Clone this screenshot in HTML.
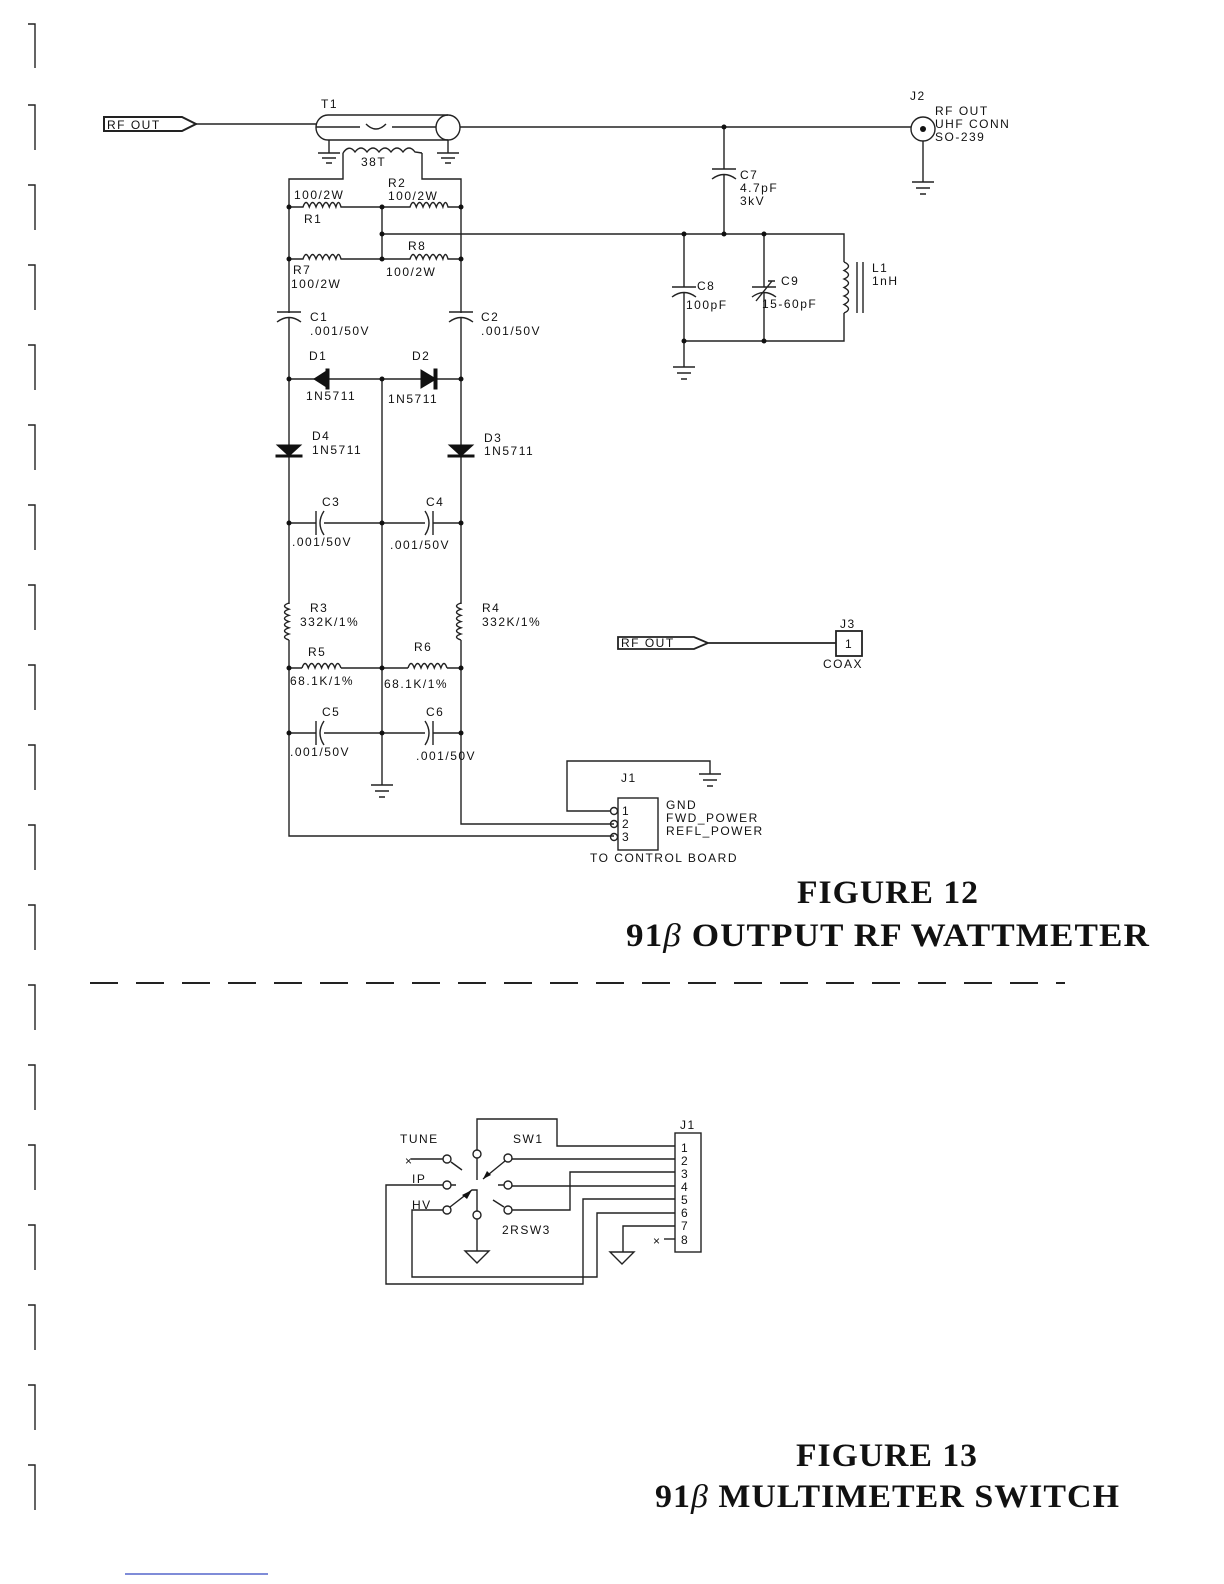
<!DOCTYPE html>
<html><head><meta charset="utf-8"><style>
html,body{margin:0;padding:0;background:#fff;}
svg{display:block;}
text{font-family:"Liberation Sans",sans-serif;font-size:12px;letter-spacing:1.5px;fill:#111;}
.big{font-family:"Liberation Serif",serif;font-weight:bold;font-size:33px;letter-spacing:1px;}
</style></head><body>
<svg width="1224" height="1584" viewBox="0 0 1224 1584" xmlns="http://www.w3.org/2000/svg">
<g fill="none" stroke="#222" stroke-width="1.4">
<path d="M28 24 H35 V68 M28 105 H35 V150 M28 185 H35 V230 M28 265 H35 V310 M28 345 H35 V390 M28 425 H35 V470 M28 505 H35 V550 M28 585 H35 V630 M28 665 H35 V710 M28 745 H35 V790 M28 825 H35 V870 M28 905 H35 V950 M28 985 H35 V1030 M28 1065 H35 V1110 M28 1145 H35 V1190 M28 1225 H35 V1270 M28 1305 H35 V1350 M28 1385 H35 V1430 M28 1465 H35 V1510"/>

<path d="M104 117 H182 L196 124 L182 131 H104 Z" stroke-width="2"/>
<path d="M196 124 H316"/>
<path d="M328 115 H448 M328 140 H448 M328 115 A12 12.5 0 0 0 328 140"/>
<ellipse cx="448" cy="127.5" rx="12" ry="12.5"/>
<path d="M316 127 H360 M392 127 H436 M366 124 Q376 134 386 124"/>
<path d="M460 127 H911"/>
<path d="M329 140 V153 M318 153 H340 M322 158 H336 M326 163 H332"/>
<path d="M448 140 V153 M437 153 H459 M441 158 H455 M445 163 H451"/>
<path d="M343 153 Q349 144 355 152 Q361 144 367 152 Q373 144 379 152 Q385 144 391 152 Q397 144 403 152 Q409 144 415 152 L422 153"/>
<path d="M343 153 V179 H289 V836 H614"/>
<path d="M422 153 V179 H461 V824 H614"/>
<path d="M289 207 H303 Q306 198 309.3 207 Q312.6 198 316 207 Q319.3 198 322.6 207 Q326 198 329.3 207 Q332.6 198 335.9 207 Q338.5 198 341 207 H410 Q413 198 416.3 207 Q419.6 198 423 207 Q426.3 198 429.6 207 Q433 198 436.3 207 Q439.6 198 442.9 207 Q445.5 198 448 207 H461"/>
<path d="M382 207 V259"/>
<path d="M382 234 H844 V262"/>
<path d="M289 259 H303 Q306 250 309.3 259 Q312.6 250 316 259 Q319.3 250 322.6 259 Q326 250 329.3 259 Q332.6 250 335.9 259 Q338.5 250 341 259 H410 Q413 250 416.3 259 Q419.6 250 423 259 Q426.3 250 429.6 259 Q433 250 436.3 259 Q439.6 250 442.9 259 Q445.5 250 448 259 H461"/>
</g>
<g stroke="#fff" stroke-width="4"><path d="M289 313 V318 M461 313 V318"/></g>
<g fill="none" stroke="#222" stroke-width="1.4">
<path d="M277 312 H301 M277 322 Q289 313 301 322"/>
<path d="M449 312 H473 M449 322 Q461 313 473 322"/>
<path d="M289 379 H461 M382 379 V785"/>
</g>
<g fill="#111" stroke="#111" stroke-width="1">
<polygon points="314,379 328,370 328,388"/><rect x="326" y="369" width="3" height="20"/>
<polygon points="436,379 421,370 421,388"/><rect x="434" y="369" width="3" height="20"/>
<polygon points="277,445 301,445 289,456"/><rect x="276" y="455" width="26" height="2"/>
<polygon points="449,445 473,445 461,456"/><rect x="448" y="455" width="26" height="2"/>
</g>
<g stroke="#fff" stroke-width="6"><path d="M318 523 H321 M429 523 H432 M318 733 H321 M429 733 H432 M303 668 H341 M408 668 H447 M289 604 V640 M461 604 V640"/></g>
<g fill="none" stroke="#222" stroke-width="1.4">
<path d="M289 523 H316 M324 523 H425 M433 523 H461 M289 668 H302 M341 668 H408 M447 668 H461 M289 733 H316 M324 733 H425 M433 733 H461"/>
<path d="M316 511 V535 M324 511 Q316 523 324 535"/>
<path d="M433 511 V535 M425 511 Q433 523 425 535"/>
<path d="M316 721 V745 M324 721 Q316 733 324 745"/>
<path d="M433 721 V745 M425 721 Q433 733 425 745"/>
<path d="M289 603 Q280 606 289 609.2 Q280 612.3 289 615.4 Q280 618.5 289 621.6 Q280 624.7 289 627.8 Q280 630.9 289 634 Q280 637 289 640"/>
<path d="M461 603 Q452 606 461 609.2 Q452 612.3 461 615.4 Q452 618.5 461 621.6 Q452 624.7 461 627.8 Q452 630.9 461 634 Q452 637 461 640"/>
<path d="M302 668 Q305 659 308.3 668 Q311.6 659 315 668 Q318.3 659 321.6 668 Q325 659 328.3 668 Q331.6 659 334.9 668 Q337.5 659 341 668"/>
<path d="M408 668 Q411 659 414.3 668 Q417.6 659 421 668 Q424.3 659 427.6 668 Q431 659 434.3 668 Q437.6 659 440.9 668 Q444 659 447 668"/>
<path d="M371 785 H393 M375 791 H389 M379 797 H385"/>
<path d="M724 127 V169 M724 175 V234 M712 169 H736 M712 179 Q724 170 736 179"/>
<circle cx="923" cy="129" r="12"/>
<path d="M923 141 V182 M912 182 H934 M916 188 H930 M920 194 H926"/>
<path d="M684 234 V287 M684 293 V367 M672 287 H696 M672 297 Q684 288 696 297"/>
<path d="M764 234 V287 M764 293 V341 M752 287 H776 M752 297 Q764 288 776 297 M756 301 L772 281 M768 281 H775"/>
<path d="M684 341 H844 V313"/>
<path d="M844 262 Q853 266 844 270.5 Q853 275 844 279 Q853 283 844 287.5 Q853 292 844 296 Q853 300 844 304.5 Q853 309 844 313"/>
<path d="M857 262 V313 M863 262 V313"/>
<path d="M673 367 H695 M677 373 H691 M681 379 H687"/>
<path d="M618 637 H694 L708 643 L694 649 H618 Z M708 643 H836" stroke-width="1.8"/>
<rect x="836" y="631" width="26" height="25" stroke-width="1.8"/>
<rect x="618" y="798" width="40" height="52"/>
<circle cx="614" cy="811" r="3.5"/><circle cx="614" cy="824" r="3.5"/><circle cx="614" cy="837" r="3.5"/>
<path d="M610 811 H567 V761 H710 V774 M699 774 H721 M703 780 H717 M707 786 H713"/>
<path d="M90 983 H1065" stroke-width="2" stroke-dasharray="28 18"/>

<rect x="675" y="1133" width="26" height="119"/>
<path d="M411 1159 H443 M451 1162 L462 1170"/>
<circle cx="447" cy="1159" r="4"/>
<path d="M477 1150 V1119 H557 V1146 H675"/>
<circle cx="477" cy="1154" r="4"/>
<path d="M477 1158 V1180"/>
<circle cx="508" cy="1158" r="4"/>
<path d="M512 1159 H675 M505 1161 L483 1179"/>
<circle cx="447" cy="1185" r="4"/>
<path d="M443 1185 H386 V1284 H583 V1199 H675 M451 1185 H456"/>
<circle cx="508" cy="1185" r="4"/>
<path d="M512 1186 H675 M498 1185 H504"/>
<circle cx="508" cy="1210" r="4"/>
<path d="M493 1200 L504 1207 M512 1210 H570 V1172 H675"/>
<circle cx="447" cy="1210" r="4"/>
<path d="M443 1210 H412 V1277 H597 V1213 H675 M450 1207 L472 1190 H477 V1211"/>
<circle cx="477" cy="1215" r="4"/>
<path d="M477 1219 V1251 M465 1251 H489 L477 1263 Z"/>
<path d="M675 1226 H623 V1252 M610 1252 H634 L622 1264 Z"/>
<path d="M664 1239 H675"/>
</g>
<g fill="#111">
<circle cx="724" cy="127" r="2.5"/>
<circle cx="289" cy="207" r="2.5"/><circle cx="382" cy="207" r="2.5"/><circle cx="461" cy="207" r="2.5"/>
<circle cx="382" cy="234" r="2.5"/><circle cx="684" cy="234" r="2.5"/><circle cx="724" cy="234" r="2.5"/><circle cx="764" cy="234" r="2.5"/>
<circle cx="289" cy="259" r="2.5"/><circle cx="382" cy="259" r="2.5"/><circle cx="461" cy="259" r="2.5"/>
<circle cx="684" cy="341" r="2.5"/><circle cx="764" cy="341" r="2.5"/>
<circle cx="289" cy="379" r="2.5"/><circle cx="382" cy="379" r="2.5"/><circle cx="461" cy="379" r="2.5"/>
<circle cx="289" cy="523" r="2.5"/><circle cx="382" cy="523" r="2.5"/><circle cx="461" cy="523" r="2.5"/>
<circle cx="289" cy="668" r="2.5"/><circle cx="382" cy="668" r="2.5"/><circle cx="461" cy="668" r="2.5"/>
<circle cx="289" cy="733" r="2.5"/><circle cx="382" cy="733" r="2.5"/><circle cx="461" cy="733" r="2.5"/>
<circle cx="923" cy="129" r="3"/>
<polygon points="483,1179 487,1171 491,1175"/>
<polygon points="472,1190 462,1195 467,1199"/>
</g>
<g>
<text x="107" y="129" font-size="12.5">RF OUT</text>
<text x="321" y="108">T1</text>
<text x="361" y="166">38T</text>
<text x="294" y="199">100/2W</text>
<text x="388" y="187">R2</text>
<text x="388" y="200">100/2W</text>
<text x="304" y="223">R1</text>
<text x="408" y="250">R8</text>
<text x="293" y="274">R7</text>
<text x="291" y="288">100/2W</text>
<text x="386" y="276">100/2W</text>
<text x="310" y="321">C1</text>
<text x="310" y="335">.001/50V</text>
<text x="481" y="321">C2</text>
<text x="481" y="335">.001/50V</text>
<text x="309" y="360">D1</text>
<text x="412" y="360">D2</text>
<text x="306" y="400">1N5711</text>
<text x="388" y="403">1N5711</text>
<text x="312" y="440">D4</text>
<text x="312" y="454">1N5711</text>
<text x="484" y="442">D3</text>
<text x="484" y="455">1N5711</text>
<text x="322" y="506">C3</text>
<text x="292" y="546">.001/50V</text>
<text x="426" y="506">C4</text>
<text x="390" y="549">.001/50V</text>
<text x="310" y="612">R3</text>
<text x="300" y="626">332K/1%</text>
<text x="482" y="612">R4</text>
<text x="482" y="626">332K/1%</text>
<text x="308" y="656">R5</text>
<text x="290" y="685">68.1K/1%</text>
<text x="414" y="651">R6</text>
<text x="384" y="688">68.1K/1%</text>
<text x="322" y="716">C5</text>
<text x="290" y="756">.001/50V</text>
<text x="426" y="716">C6</text>
<text x="416" y="760">.001/50V</text>
<text x="740" y="179">C7</text>
<text x="740" y="192">4.7pF</text>
<text x="740" y="205">3kV</text>
<text x="697" y="290">C8</text>
<text x="686" y="309">100pF</text>
<text x="781" y="285">C9</text>
<text x="762" y="308">15-60pF</text>
<text x="872" y="272">L1</text>
<text x="872" y="285">1nH</text>
<text x="910" y="100">J2</text>
<text x="935" y="115">RF OUT</text>
<text x="935" y="128">UHF CONN</text>
<text x="935" y="141">SO-239</text>
<text x="621" y="647" font-size="12.5">RF OUT</text>
<text x="840" y="628">J3</text>
<text x="845" y="648" font-size="11">1</text>
<text x="823" y="668">COAX</text>
<text x="621" y="782">J1</text>
<text x="622" y="815" font-size="12">1</text>
<text x="622" y="828" font-size="12">2</text>
<text x="622" y="841" font-size="12">3</text>
<text x="666" y="809">GND</text>
<text x="666" y="822">FWD_POWER</text>
<text x="666" y="835">REFL_POWER</text>
<text x="590" y="862">TO CONTROL BOARD</text>
<text class="big" x="797" y="903" textLength="182" lengthAdjust="spacingAndGlyphs">FIGURE 12</text>
<text class="big" x="626" y="946" textLength="524" lengthAdjust="spacingAndGlyphs">91<tspan font-style="italic" font-weight="normal">β</tspan> OUTPUT RF WATTMETER</text>

<text x="400" y="1143">TUNE</text>
<text x="513" y="1143">SW1</text>
<text x="405" y="1165" font-size="17">×</text>
<text x="412" y="1183">IP</text>
<text x="412" y="1209">HV</text>
<text x="502" y="1234">2RSW3</text>
<text x="680" y="1129">J1</text>
<text x="681" y="1152" font-size="13">1</text>
<text x="681" y="1165" font-size="13">2</text>
<text x="681" y="1178" font-size="13">3</text>
<text x="681" y="1191" font-size="13">4</text>
<text x="681" y="1204" font-size="13">5</text>
<text x="681" y="1217" font-size="13">6</text>
<text x="681" y="1230" font-size="13">7</text>
<text x="681" y="1244" font-size="13">8</text>
<text x="653" y="1245" font-size="17">×</text>
<text class="big" x="796" y="1466" textLength="182" lengthAdjust="spacingAndGlyphs">FIGURE 13</text>
<text class="big" x="655" y="1507" textLength="465" lengthAdjust="spacingAndGlyphs">91<tspan font-style="italic" font-weight="normal">β</tspan> MULTIMETER SWITCH</text>
</g>
<path d="M125 1574 H268" stroke="#5566cc" stroke-width="1.5"/>
</svg>
</body></html>
